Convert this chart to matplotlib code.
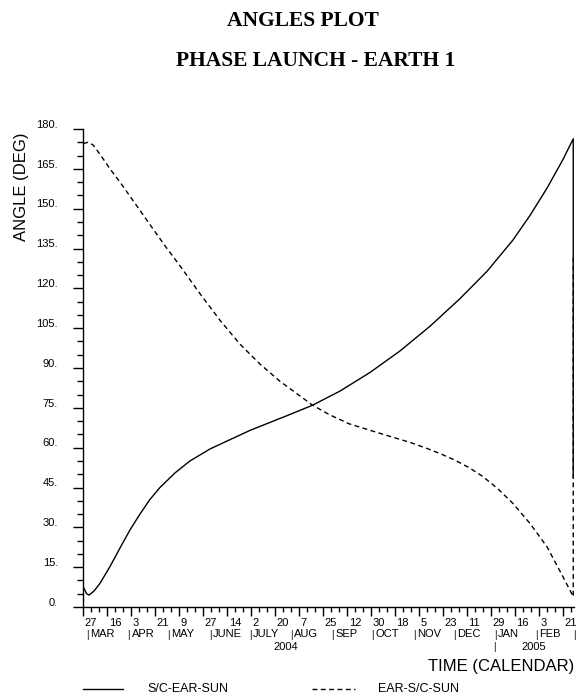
import matplotlib
matplotlib.use("Agg")
import matplotlib.pyplot as plt
from matplotlib.transforms import blended_transform_factory

# ---- data (days since 27 Feb 2004) ----
sc_ear_sun_days = [0, 2.5, 4.3, 8, 12.5, 20, 27.5, 35, 42.5, 50, 57.5, 68.8, 80, 95, 110,
                   125, 140, 155, 172, 192.5, 215, 237.5, 260, 282.5, 302.8, 322.3, 335, 347.8,
                   359.8, 367.5, 367.5]
sc_ear_sun_vals = [7.5, 5.0, 4.5, 6.0, 8.9, 15.2, 22.2, 29, 35, 40.5, 45, 50.5, 55, 59.5, 63,
                   66.5, 69.5, 72.5, 76, 81.3, 88.3, 96.4, 105.7, 116.1, 126.4, 138.2, 147.4, 157.7,
                   168.5, 176.3, 49]

ear_sc_sun_days = [0, 3.5, 7.3, 12.5, 20, 27.5, 38.8, 50, 61.3, 72.5, 87.5, 102.5, 117.5,
                   132.5, 147.5, 162.5, 172, 184.3, 199.3, 221.8, 245, 256.3, 267.5, 278.8,
                   290, 299.8, 311, 322.3, 335, 347.8, 359.8, 367.5, 367.5]
ear_sc_sun_vals = [174.5, 175, 174, 170.5, 165, 160, 152, 144, 136, 128.5, 118, 108, 99,
                   91.5, 85, 79.5, 76, 72.5, 69, 65.5, 62, 60, 57.8, 55.3, 52.3, 49.1, 44.5,
                   39, 31.5, 22.7, 11.4, 3.9, 132]

y_major = [0, 15, 30, 45, 60, 75, 90, 105, 120, 135, 150, 165, 180]
y_labels = ["0.", "15.", "30.", "45.", "60.", "75.", "90.", "105.", "120.", "135.", "150.", "165.", "180."]

day_tick_days = [0, 18, 36, 54, 72, 90, 108, 126, 144, 162, 180, 198, 216, 234, 252, 270,
                 288, 306, 324, 342, 360]
day_tick_labels = ["27", "16", "3", "21", "9", "27", "14", "2", "20", "7", "25", "12", "30",
                   "18", "5", "23", "11", "29", "16", "3", "21"]
month_start_days = [3, 34, 64, 95, 125, 156, 187, 217, 248, 278, 309, 340, 368]
month_names = ["MAR", "APR", "MAY", "JUNE", "JULY", "AUG", "SEP", "OCT", "NOV", "DEC", "JAN", "FEB", ""]
year_labels = ["2004", "2005"]
year_centers = [152, 338]
year_break_day = 308

X_END = 367.7

fig = plt.figure(figsize=(5.76, 7.0), dpi=100)
ax = fig.add_axes([83.3 / 576, 1 - 607 / 700, (573.5 - 83.3) / 576, (607 - 129) / 700])

ax.plot(sc_ear_sun_days, sc_ear_sun_vals, color="black", lw=1.0, solid_joinstyle="round")
ax.plot(ear_sc_sun_days, ear_sc_sun_vals, color="black", lw=1.0, dashes=(3.5, 2.5))

ax.set_xlim(0, X_END)
ax.set_ylim(0, 180)
for s in ["top", "right"]:
    ax.spines[s].set_visible(False)
for s in ["left", "bottom"]:
    ax.spines[s].set_linewidth(1.0)

# y ticks
ax.set_yticks(y_major)
ax.set_yticklabels([])
ax.set_yticks(list(range(0, 181, 5)), minor=True)
ax.tick_params(axis="y", which="major", direction="out", length=7.2, width=1.0)
ax.tick_params(axis="y", which="minor", direction="out", length=4.3, width=1.0)
ytr = blended_transform_factory(fig.transFigure, ax.transData)
for v, lab in zip(y_major, y_labels):
    fig.text(58 / 576, v + 1.6, lab, transform=ytr, ha="right", va="center",
             fontsize=8, family="Liberation Sans")

# x ticks
ax.set_xticks(day_tick_days)
ax.set_xticklabels([])
ax.set_xticks(list(range(0, 367, 6)), minor=True)
ax.tick_params(axis="x", which="major", direction="out", length=6.5, width=1.0)
ax.tick_params(axis="x", which="minor", direction="out", length=3.6, width=1.0)

xtr = blended_transform_factory(ax.transData, fig.transFigure)
for d, lab in zip(day_tick_days, day_tick_labels):
    fig.text(d + 1.0, 1 - 623 / 700, lab, transform=xtr, ha="left", va="center",
             fontsize=8, family="Liberation Sans")
for d, name in zip(month_start_days, month_names):
    fig.text(d, 1 - 635 / 700, "|", transform=xtr, ha="center", va="center",
             fontsize=7, family="Liberation Sans")
    if name:
        fig.text(d + 2.2, 1 - 634 / 700, name, transform=xtr, ha="left", va="center",
                 fontsize=8, family="Liberation Sans")
fig.text(year_break_day, 1 - 647 / 700, "|", transform=xtr, ha="center", va="center",
         fontsize=7, family="Liberation Sans")
for c, lab in zip(year_centers, year_labels):
    fig.text(c, 1 - 647 / 700, lab, transform=xtr, ha="center", va="center",
             fontsize=8, family="Liberation Sans")

# axis labels
fig.text(22 / 576, 1 - 187 / 700, "ANGLE (DEG)", rotation=90, ha="center", va="center",
         fontsize=12, family="Liberation Sans")
fig.text(574 / 576, 1 - 667 / 700, "TIME (CALENDAR)", ha="right", va="center",
         fontsize=12, family="Liberation Sans")

# titles
fig.text(302.5 / 576, 1 - 21 / 700, "ANGLES PLOT", ha="center", va="center",
         fontsize=15.5, fontweight="bold", family="Liberation Serif")
fig.text(316 / 576, 1 - 61.5 / 700, "PHASE LAUNCH - EARTH 1", ha="center", va="center",
         fontsize=15.5, fontweight="bold", family="Liberation Serif")

# legend
ly = 1 - 689 / 700
fig.add_artist(plt.Line2D([83 / 576, 123 / 576], [ly, ly], color="black", lw=1.0))
fig.text(147 / 576, ly, "S/C-EAR-SUN", ha="left", va="center", fontsize=9, family="Liberation Sans")
fig.add_artist(plt.Line2D([312 / 576, 355 / 576], [ly, ly], color="black", lw=1.0, dashes=(3.5, 2.5)))
fig.text(378 / 576, ly, "EAR-S/C-SUN", ha="left", va="center", fontsize=9, family="Liberation Sans")

fig.savefig("out.png", dpi=100)
